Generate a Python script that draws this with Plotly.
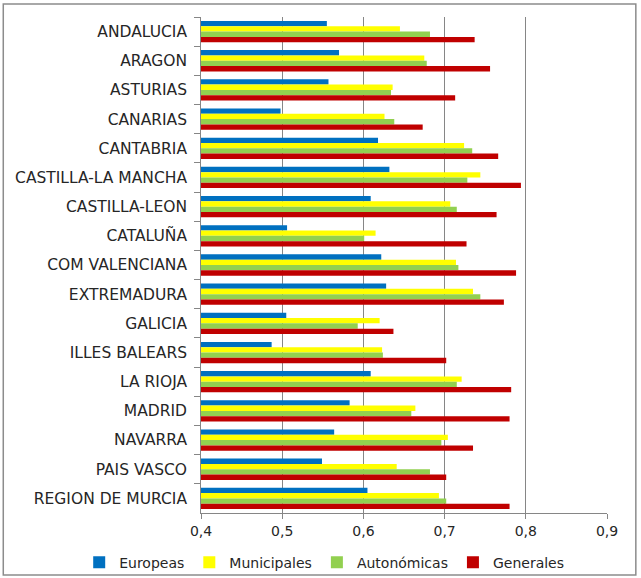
import plotly.graph_objects as go

regions = ["ANDALUCIA", "ARAGON", "ASTURIAS", "CANARIAS", "CANTABRIA",
           "CASTILLA-LA MANCHA", "CASTILLA-LEON", "CATALUÑA", "COM VALENCIANA",
           "EXTREMADURA", "GALICIA", "ILLES BALEARS", "LA RIOJA", "MADRID",
           "NAVARRA", "PAIS VASCO", "REGION DE MURCIA"]

europeas = [0.555, 0.570, 0.557, 0.498, 0.618, 0.632, 0.609, 0.506, 0.622,
            0.628, 0.505, 0.487, 0.609, 0.583, 0.564, 0.549, 0.605]
municipales = [0.645, 0.675, 0.636, 0.626, 0.724, 0.744, 0.707, 0.615, 0.714,
               0.735, 0.620, 0.623, 0.721, 0.664, 0.704, 0.641, 0.693]
autonomicas = [0.682, 0.678, 0.634, 0.638, 0.734, 0.728, 0.715, 0.601, 0.717,
               0.744, 0.593, 0.624, 0.715, 0.659, 0.696, 0.682, 0.702]
generales = [0.737, 0.756, 0.713, 0.673, 0.766, 0.794, 0.764, 0.727, 0.788,
             0.773, 0.637, 0.702, 0.782, 0.780, 0.735, 0.702, 0.780]

series = [("Europeas", europeas, "#0070C0"),
          ("Municipales", municipales, "#FFFF00"),
          ("Autonómicas", autonomicas, "#92D050"),
          ("Generales", generales, "#C00000")]

AXIS_MIN = 0.4

fig = go.Figure()
for name, vals, col in series:
    fig.add_trace(go.Bar(y=regions, x=[v - AXIS_MIN for v in vals], base=AXIS_MIN,
                         name=name, orientation="h",
                         marker=dict(color=col, line=dict(width=0))))

FONT = "DejaVu Sans, Verdana, sans-serif"

fig.update_layout(
    width=641, height=578,
    margin=dict(l=201, r=34, t=17, b=65, autoexpand=False),
    paper_bgcolor="white", plot_bgcolor="white",
    barmode="group", bargap=0.27, bargroupgap=0,
    separators=",.",
    font=dict(family=FONT, size=13, color="#262626"),
    legend=dict(orientation="h", x=-0.30, xanchor="left", y=-0.068, yanchor="top",
                font=dict(family=FONT, size=14, color="#262626"), itemwidth=30,
                tracegroupgap=0, bgcolor="rgba(0,0,0,0)"),
    showlegend=True,
)
fig.update_xaxes(range=[0.4, 0.9], dtick=0.1, tick0=0.4, tickformat=".1f",
                 showgrid=True, gridcolor="#868686", gridwidth=1,
                 zeroline=False, showline=True, linecolor="#868686", linewidth=1,
                 ticks="outside", ticklen=5,
                 tickcolor="#868686", tickfont=dict(family=FONT, size=14, color="#262626"))
fig.update_yaxes(autorange="reversed", showgrid=False, showline=True,
                 linecolor="#868686", linewidth=1, ticks="outside", ticklen=6,
                 tickcolor="#868686", tickson="boundaries",
                 tickfont=dict(family=FONT, size=15.5, color="#262626"), ticksuffix="  ")

fig.add_shape(type="rect", xref="paper", yref="paper",
              x0=-0.487, x1=1.071, y0=-0.125, y1=1.026,
              line=dict(color="#8c8c8c", width=1.5), fillcolor="rgba(0,0,0,0)",
              layer="below")

fig.write_html("out.html")
